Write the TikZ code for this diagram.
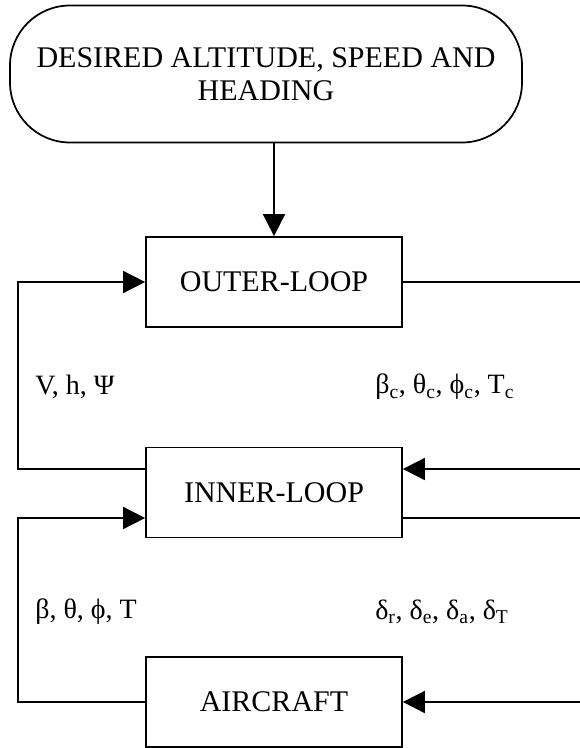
\documentclass[tikz,border=0pt]{standalone}
\usepackage{fontspec}
\setmainfont{Liberation Serif}
\usetikzlibrary{arrows.meta}
\tikzset{
  terminal/.style={draw, line width=1.3pt, rounded corners=45pt, minimum width=384pt,
    minimum height=102.75pt, align=center, font=\fontsize{22.5}{25}\selectfont},
  bloc/.style={draw, line width=1.3pt, minimum width=192pt, minimum height=67.5pt,
    font=\fontsize{22.5}{25}\selectfont},
  fletxa/.style={line width=1.3pt, -{Triangle[length=16.5pt,width=16.5pt]}},
  etiqueta/.style={anchor=west, inner sep=0pt, font=\fontsize{21}{24}\selectfont},
}
\begin{document}
\begin{tikzpicture}[x=.75pt,y=-.75pt]
  \useasboundingbox (0,0) rectangle (580,748);
  \clip (0,0) rectangle (580,748);

  \node[terminal] (objectiu) at (266,74) {DESIRED ALTITUDE, SPEED AND\\HEADING};
  \node[bloc] (outer) at (274,282) {OUTER-LOOP};
  \node[bloc] (inner) at (274,492.5) {INNER-LOOP};
  \node[bloc] (avio) at (274,702) {AIRCRAFT};

  % marges i nivells dels llaços
  \coordinate (marge) at (18,0);
  \coordinate (vora) at (592,0);
  \coordinate (p1) at (0,469);
  \coordinate (p2) at (0,518);

  \draw[fletxa] (objectiu.south -| outer.north) -- (outer.north);
  \draw[fletxa] (inner.west |- p1) -| (marge |- outer.west) -- (outer.west);
  \draw[fletxa] (outer.east) -| (vora |- p1) -- (inner.east |- p1);
  \draw[fletxa] (avio.west) -| (marge |- p2) -- (inner.west |- p2);
  \draw[fletxa] (inner.east |- p2) -| (vora |- avio.east) -- (avio.east);

  \node[etiqueta] (vhpsi) at (35,387) {V, h, Ψ};
  \node[etiqueta] (ordres) at (375,387)
    {β\textsubscript{c}, θ\textsubscript{c}, ϕ\textsubscript{c}, T\textsubscript{c}};
  \node[etiqueta] (estat) at (35,612) {β, θ, ϕ, T};
  \node[etiqueta] (deflex) at (375,612)
    {δ\textsubscript{r}, δ\textsubscript{e}, δ\textsubscript{a}, δ\textsubscript{T}};
\end{tikzpicture}
\end{document}
